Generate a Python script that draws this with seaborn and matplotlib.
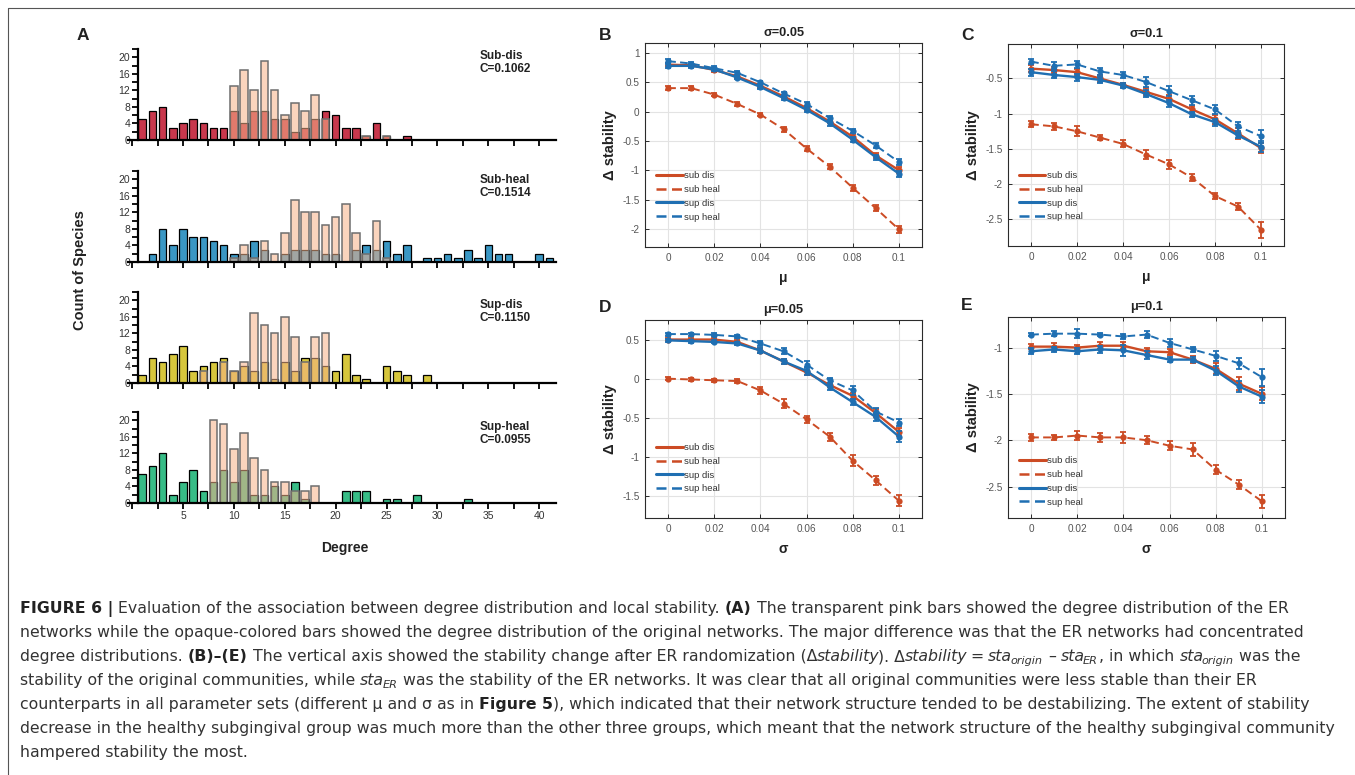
import numpy as np
import pandas as pd
import matplotlib
matplotlib.use("Agg")
import matplotlib.pyplot as plt
import seaborn as sns
from matplotlib.ticker import MultipleLocator, FuncFormatter
from matplotlib.lines import Line2D
from matplotlib.transforms import IdentityTransform

# ---------------------------------------------------------------------------
# Panel A : degree distributions (original network vs ER network)
# ---------------------------------------------------------------------------
degree = list(range(1, 42))

sub_dis = [5, 7, 8, 3, 4, 5, 4, 3, 3, 7,
           4, 7, 7, 5, 5, 2, 3, 5, 7, 6,
           3, 3, 1, 4, 1, 0, 1, 0, 0, 0,
           0, 0, 0, 0, 0, 0, 0, 0, 0, 0, 0]
sub_dis_er = [0, 0, 0, 0, 0, 0, 0, 0, 0, 13,
              17, 12, 19, 12, 6, 9, 7, 11, 5, 0,
              0, 0, 1, 0, 1, 0, 0, 0, 0, 0,
              0, 0, 0, 0, 0, 0, 0, 0, 0, 0, 0]
sub_heal = [0, 2, 8, 4, 8, 6, 6, 5, 4, 2,
            2, 5, 3, 0, 2, 3, 3, 3, 2, 2,
            0, 3, 4, 3, 5, 2, 4, 0, 1, 1,
            2, 1, 3, 1, 4, 2, 2, 0, 0, 2, 1]
sub_heal_er = [0, 0, 0, 0, 0, 0, 0, 0, 0, 1,
               4, 1, 5, 2, 7, 15, 12, 12, 9, 11,
               14, 7, 2, 10, 1, 0, 0, 0, 0, 0,
               0, 0, 0, 0, 0, 0, 0, 0, 0, 0, 0]
sup_dis = [2, 6, 5, 7, 9, 3, 4, 5, 6, 3,
           4, 3, 5, 1, 5, 3, 6, 6, 4, 3,
           7, 2, 1, 0, 4, 3, 2, 0, 2, 0,
           0, 0, 0, 0, 0, 0, 0, 0, 0, 0, 0]
sup_dis_er = [0, 0, 0, 0, 0, 0, 3, 0, 5, 3,
              5, 17, 14, 12, 16, 11, 5, 11, 12, 0,
              0, 0, 0, 0, 0, 0, 0, 0, 0, 0,
              0, 0, 0, 0, 0, 0, 0, 0, 0, 0, 0]
sup_heal = [7, 9, 12, 2, 5, 8, 3, 5, 8, 5,
            8, 2, 2, 4, 2, 5, 1, 0, 0, 0,
            3, 3, 3, 0, 1, 1, 0, 2, 0, 0,
            0, 0, 1, 0, 0, 0, 0, 0, 0, 0, 0]
sup_heal_er = [0, 0, 0, 0, 0, 0, 0, 20, 19, 13,
               17, 11, 8, 5, 5, 3, 3, 4, 0, 0,
               0, 0, 0, 0, 0, 0, 0, 0, 0, 0,
               0, 0, 0, 0, 0, 0, 0, 0, 0, 0, 0]

group_labels = ["Sub-dis\nC=0.1062", "Sub-heal\nC=0.1514",
                "Sup-dis\nC=0.1150", "Sup-heal\nC=0.0955"]

# ---------------------------------------------------------------------------
# Panels B-E : delta stability
# ---------------------------------------------------------------------------
param = [0, 0.01, 0.02, 0.03, 0.04, 0.05, 0.06, 0.07, 0.08, 0.09, 0.1]
series_names = ["sub dis", "sub heal", "sup dis", "sup heal"]

# B : sigma = 0.05, x = mu
b_sub_dis = [0.80, 0.79, 0.71, 0.60, 0.44, 0.26, 0.06, -0.17, -0.43, -0.75, -1.00]
b_sub_dis_err = [0.03, 0.03, 0.03, 0.03, 0.03, 0.03, 0.03, 0.03, 0.04, 0.04, 0.05]
b_sub_heal = [0.40, 0.40, 0.29, 0.13, -0.05, -0.30, -0.63, -0.94, -1.30, -1.65, -2.01]
b_sub_heal_err = [0.03, 0.04, 0.03, 0.03, 0.03, 0.04, 0.05, 0.04, 0.05, 0.05, 0.06]
b_sup_dis = [0.78, 0.78, 0.72, 0.58, 0.42, 0.23, 0.03, -0.20, -0.48, -0.78, -1.06]
b_sup_dis_err = [0.03, 0.03, 0.03, 0.03, 0.03, 0.04, 0.04, 0.04, 0.04, 0.04, 0.05]
b_sup_heal = [0.86, 0.82, 0.74, 0.66, 0.50, 0.31, 0.13, -0.11, -0.33, -0.58, -0.86]
b_sup_heal_err = [0.03, 0.03, 0.03, 0.03, 0.03, 0.03, 0.03, 0.04, 0.04, 0.04, 0.05]

# C : sigma = 0.1, x = mu
c_sub_dis = [-0.36, -0.38, -0.41, -0.50, -0.59, -0.69, -0.79, -0.94, -1.08, -1.28, -1.49]
c_sub_dis_err = [0.05, 0.04, 0.05, 0.05, 0.03, 0.05, 0.05, 0.05, 0.06, 0.08, 0.07]
c_sub_heal = [-1.15, -1.18, -1.25, -1.34, -1.43, -1.58, -1.72, -1.91, -2.17, -2.32, -2.65]
c_sub_heal_err = [0.04, 0.05, 0.07, 0.04, 0.05, 0.07, 0.06, 0.05, 0.04, 0.05, 0.11]
c_sup_dis = [-0.41, -0.45, -0.48, -0.52, -0.60, -0.72, -0.85, -1.01, -1.12, -1.31, -1.47]
c_sup_dis_err = [0.05, 0.05, 0.05, 0.04, 0.03, 0.05, 0.05, 0.04, 0.05, 0.04, 0.08]
c_sup_heal = [-0.26, -0.32, -0.30, -0.40, -0.45, -0.55, -0.68, -0.81, -0.94, -1.18, -1.32]
c_sup_heal_err = [0.04, 0.05, 0.05, 0.05, 0.04, 0.07, 0.07, 0.06, 0.06, 0.06, 0.09]

# D : mu = 0.05, x = sigma
d_sub_dis = [0.50, 0.50, 0.50, 0.47, 0.36, 0.22, 0.08, -0.08, -0.22, -0.44, -0.68]
d_sub_dis_err = [0.02, 0.02, 0.02, 0.03, 0.03, 0.03, 0.03, 0.03, 0.04, 0.05, 0.05]
d_sub_heal = [0.00, -0.01, -0.02, -0.03, -0.15, -0.32, -0.52, -0.74, -1.05, -1.30, -1.56]
d_sub_heal_err = [0.02, 0.02, 0.02, 0.03, 0.05, 0.06, 0.04, 0.05, 0.07, 0.06, 0.07]
d_sup_dis = [0.49, 0.48, 0.47, 0.45, 0.36, 0.22, 0.10, -0.11, -0.30, -0.49, -0.74]
d_sup_dis_err = [0.02, 0.02, 0.02, 0.02, 0.03, 0.03, 0.05, 0.03, 0.04, 0.05, 0.07]
d_sup_heal = [0.57, 0.57, 0.56, 0.54, 0.45, 0.35, 0.18, -0.02, -0.15, -0.42, -0.56]
d_sup_heal_err = [0.02, 0.02, 0.02, 0.02, 0.03, 0.04, 0.04, 0.03, 0.06, 0.04, 0.04]

# E : mu = 0.1, x = sigma
e_sub_dis = [-0.99, -0.99, -1.00, -0.98, -0.98, -1.04, -1.05, -1.13, -1.23, -1.39, -1.50]
e_sub_dis_err = [0.03, 0.04, 0.03, 0.04, 0.04, 0.04, 0.03, 0.04, 0.06, 0.07, 0.07]
e_sub_heal = [-1.97, -1.97, -1.95, -1.97, -1.97, -2.00, -2.06, -2.10, -2.32, -2.48, -2.66]
e_sub_heal_err = [0.04, 0.03, 0.05, 0.05, 0.06, 0.04, 0.05, 0.07, 0.05, 0.05, 0.07]
e_sup_dis = [-1.04, -1.02, -1.04, -1.02, -1.03, -1.08, -1.13, -1.13, -1.25, -1.42, -1.53]
e_sup_dis_err = [0.03, 0.03, 0.03, 0.04, 0.06, 0.04, 0.03, 0.03, 0.05, 0.06, 0.07]
e_sup_heal = [-0.86, -0.85, -0.85, -0.86, -0.88, -0.86, -0.95, -1.02, -1.09, -1.17, -1.32]
e_sup_heal_err = [0.02, 0.03, 0.05, 0.02, 0.03, 0.04, 0.04, 0.03, 0.05, 0.06, 0.09]

# ---------------------------------------------------------------------------
# Style
# ---------------------------------------------------------------------------
sns.set_theme(style="white")
plt.rcParams["font.family"] = ["Liberation Sans", "DejaVu Sans"]

W, H = 1355, 775
RED_A, BLUE_A, YEL_A, GRN_A = "#C8374C", "#3A97C4", "#D6C63C", "#37BC86"
PINK, PINK_EDGE = "#F7B288", "#6E6E6E"
ORANGE, BLUE = "#CC4B24", "#1F6FB2"
TXT = "#222222"

fig = plt.figure(figsize=(W / 100, H / 100), dpi=100)


def box(l, t, r, b):
    return [l / W, 1 - b / H, (r - l) / W, (b - t) / H]


def px(x, y):
    return x / W, 1 - y / H


# outer frame
fig.add_artist(Line2D([8 / W, 1], [1 - 8 / H, 1 - 8 / H], color="#555555", lw=0.8))
fig.add_artist(Line2D([8 / W, 8 / W], [0, 1 - 8 / H], color="#555555", lw=0.8))

# ---------------------------------------------------------------------------
# Panel A
# ---------------------------------------------------------------------------
hist_rows = [
    (sub_dis, sub_dis_er, RED_A, 49, 140, 50),
    (sub_heal, sub_heal_er, BLUE_A, 171, 262, 174),
    (sup_dis, sup_dis_er, YEL_A, 292, 383, 299),
    (sup_heal, sup_heal_er, GRN_A, 412, 503, 421),
]

for i, (orig, er, col, top, base, ty) in enumerate(hist_rows):
    ax = fig.add_axes(box(128, top, 555.5, base))
    ox = [d for d, c in zip(degree, orig) if c > 0]
    ow = [c for c in orig if c > 0]
    ex = [d for d, c in zip(degree, er) if c > 0]
    ew = [c for c in er if c > 0]
    sns.histplot(x=ox, weights=ow, discrete=True, shrink=0.75, color=col,
                 edgecolor="black", linewidth=0.9, alpha=1, ax=ax)
    sns.histplot(x=ex, weights=ew, discrete=True, shrink=0.75, color=PINK,
                 edgecolor=PINK_EDGE, linewidth=1.1, alpha=0.55, ax=ax)
    ax.set_xlim(-0.4, 41.6)
    ax.set_ylim(0, 22)
    ax.set_xlabel("")
    ax.set_ylabel("")
    ax.patch.set_alpha(0)
    for s in ["top", "right"]:
        ax.spines[s].set_visible(False)
    ax.spines["left"].set_position(("data", 0.55))
    for s in ["left", "bottom"]:
        ax.spines[s].set_linewidth(1.6)
        ax.spines[s].set_color("black")
    ax.xaxis.set_major_locator(MultipleLocator(5))
    ax.xaxis.set_minor_locator(MultipleLocator(2.5))
    ax.yaxis.set_major_locator(MultipleLocator(4))
    ax.yaxis.set_minor_locator(MultipleLocator(2))
    ax.tick_params(axis="both", which="both", direction="out", length=4,
                   width=1.3, color="black", labelsize=7.5, labelcolor="#333333",
                   pad=1.5, bottom=True, left=True)
    ax.set_xticks([v for v in range(5, 41, 5)])
    if i < 3:
        ax.tick_params(axis="x", labelbottom=False)
    fig.text(*px(480, ty), group_labels[i], fontsize=8.5, fontweight="bold",
             color=TXT, ha="left", va="top", linespacing=1.15)

fig.text(*px(83, 35), "A", fontsize=12.5, fontweight="bold", color=TXT, ha="center", va="center")
fig.text(*px(80, 270), "Count of Species", fontsize=10.5, fontweight="bold", color=TXT,
         rotation=90, ha="center", va="center")
fig.text(*px(345, 548), "Degree", fontsize=10, fontweight="bold", color=TXT,
         ha="center", va="center")

# ---------------------------------------------------------------------------
# Panels B-E
# ---------------------------------------------------------------------------
line_panels = [
    ("B", box(645, 43, 922, 247), "σ=0.05", "μ", (-2.31, 1.17), [-2, -1.5, -1, -0.5, 0, 0.5, 1],
     [b_sub_dis, b_sub_heal, b_sup_dis, b_sup_heal],
     [b_sub_dis_err, b_sub_heal_err, b_sup_dis_err, b_sup_heal_err], 0.125, (605, 35)),
    ("C", box(1008, 44, 1284, 246), "σ=0.1", "μ", (-2.88, -0.01), [-2.5, -2, -1.5, -1, -0.5],
     [c_sub_dis, c_sub_heal, c_sup_dis, c_sup_heal],
     [c_sub_dis_err, c_sub_heal_err, c_sup_dis_err, c_sup_heal_err], 0.122, (967, 35)),
    ("D", box(645, 320, 922, 518), "μ=0.05", "σ", (-1.78, 0.75), [-1.5, -1, -0.5, 0, 0.5],
     [d_sub_dis, d_sub_heal, d_sup_dis, d_sup_heal],
     [d_sub_dis_err, d_sub_heal_err, d_sup_dis_err, d_sup_heal_err], 0.124, (605, 307)),
    ("E", box(1008, 317, 1285, 518), "μ=0.1", "σ", (-2.84, -0.67), [-2.5, -2, -1.5, -1],
     [e_sub_dis, e_sub_heal, e_sup_dis, e_sup_heal],
     [e_sub_dis_err, e_sub_heal_err, e_sup_dis_err, e_sup_heal_err], 0.057, (967, 305)),
]

colors = [ORANGE, ORANGE, BLUE, BLUE]
dashed = [False, True, False, True]
fmt_g = FuncFormatter(lambda v, p: f"{v:g}")

for letter, rect, title, xlab, ylim, yticks, ys, errs, leg_y, lpos in line_panels:
    ax = fig.add_axes(rect)
    for name, y, err, col, dsh in zip(series_names, ys, errs, colors, dashed):
        ls = (0, (4, 2.2)) if dsh else "-"
        sns.lineplot(x=param, y=y, color=col, linestyle=ls, linewidth=1.7 if not dsh else 1.4,
                     marker="o", markersize=4.5, markeredgewidth=0, errorbar=None, ax=ax)
        ax.errorbar(param, y, yerr=err, fmt="none", ecolor=col, elinewidth=1.3,
                    capsize=2.5, capthick=1.3)
    ax.set_xlim(-0.01, 0.11)
    ax.set_ylim(*ylim)
    ax.set_xticks([0, 0.02, 0.04, 0.06, 0.08, 0.1])
    ax.set_yticks(yticks)
    ax.xaxis.set_major_formatter(fmt_g)
    ax.yaxis.set_major_formatter(fmt_g)
    ax.grid(True, color="#E3E3E3", linewidth=0.8)
    for s in ax.spines.values():
        s.set_visible(True)
        s.set_color("#2B2B2B")
        s.set_linewidth(0.8)
    ax.tick_params(axis="both", direction="in", length=3, width=0.7, color="#2B2B2B",
                   top=True, right=True, bottom=True, left=True,
                   labelsize=7.2, labelcolor="#555555", pad=4)
    ax.set_title(title, fontsize=9.2, fontweight="bold", color=TXT, pad=5)
    ax.set_xlabel(xlab, fontsize=10, fontweight="bold", color=TXT, labelpad=6)
    ax.set_ylabel("Δ stability", fontsize=10.5, fontweight="bold", color=TXT, labelpad=4)
    handles = [Line2D([], [], color=c, linewidth=2.2 if not d else 1.8,
                      linestyle=(0, (4, 2.2)) if d else "-") for c, d in zip(colors, dashed)]
    ax.legend(handles, series_names, loc="lower left", bbox_to_anchor=(0.04, leg_y),
              frameon=False, fontsize=6.8, handlelength=2.8, handletextpad=0.15,
              labelspacing=0.5, borderpad=0, borderaxespad=0,
              labelcolor="#333333")
    fig.text(*px(*lpos), letter, fontsize=12.5, fontweight="bold", color=TXT,
             ha="center", va="center")

# ---------------------------------------------------------------------------
# Caption
# ---------------------------------------------------------------------------
CAP_FONT = ["DejaVu Sans"]
renderer = fig.canvas.get_renderer()

cap_lines = [
    [("FIGURE 6 | ", "b"),
     ("Evaluation of the association between degree distribution and local stability. ", "n"),
     ("(A)", "b"),
     (" The transparent pink bars showed the degree distribution of the ER", "n")],
    [("networks while the opaque-colored bars showed the degree distribution of the original "
      "networks. The major difference was that the ER networks had concentrated", "n")],
    [("degree distributions. ", "n"), ("(B)–(E)", "b"),
     (" The vertical axis showed the stability change after ER randomization (Δ", "n"),
     ("stability", "i"), ("). Δ", "n"), ("stability", "i"), (" = ", "n"),
     ("sta", "i"), ("origin", "s"), (" – ", "n"), ("sta", "i"), ("ER", "s"),
     (", in which ", "n"), ("sta", "i"), ("origin", "s"), (" was the", "n")],
    [("stability of the original communities, while ", "n"), ("sta", "i"), ("ER", "s"),
     (" was the stability of the ER networks. It was clear that all original communities "
      "were less stable than their ER", "n")],
    [("counterparts in all parameter sets (different μ and σ as in ", "n"), ("Figure 5", "b"),
     ("), which indicated that their network structure tended to be destabilizing. "
      "The extent of stability", "n")],
    [("decrease in the healthy subgingival group was much more than the other three groups, "
      "which meant that the network structure of the healthy subgingival community", "n")],
    [("hampered stability the most.", "n")],
]


def text_props(kind, size):
    p = dict(fontsize=size, family=CAP_FONT, color="#333333")
    if kind == "b":
        p["fontweight"] = "bold"
        p["color"] = "#222222"
    elif kind == "i":
        p["fontstyle"] = "italic"
    elif kind == "s":
        p["fontstyle"] = "italic"
        p["fontsize"] = size * 0.72
    return p


def measure(txt, kind, size):
    t = fig.text(0, 0, txt, transform=IdentityTransform(), **text_props(kind, size))
    w = t.get_window_extent(renderer).width
    t.remove()
    return w


# scale font so the long full line spans the same width as in the reference
w10 = measure(cap_lines[1][0][0], "n", 10)
cap_size = 10 * 1283 / w10
space_w = measure("x x", "n", cap_size) - measure("xx", "n", cap_size)


def draw_caption_line(x0, ybase, segs):
    x = x0
    for txt, kind in segs:
        core = txt.strip(" ")
        lead = len(txt) - len(txt.lstrip(" "))
        trail = len(txt) - len(txt.rstrip(" "))
        x += lead * space_w
        y = H - ybase - (3.5 if kind == "s" else 0)
        t = fig.text(x, y, core, transform=IdentityTransform(), ha="left", va="baseline",
                     **text_props(kind, cap_size))
        x += t.get_window_extent(renderer).width + trail * space_w
        if kind == "i":
            x -= 2
        elif kind == "s":
            x += 1


for k, segs in enumerate(cap_lines):
    draw_caption_line(20, 613 + 24 * k, segs)

fig.savefig("out.png", dpi=100)
